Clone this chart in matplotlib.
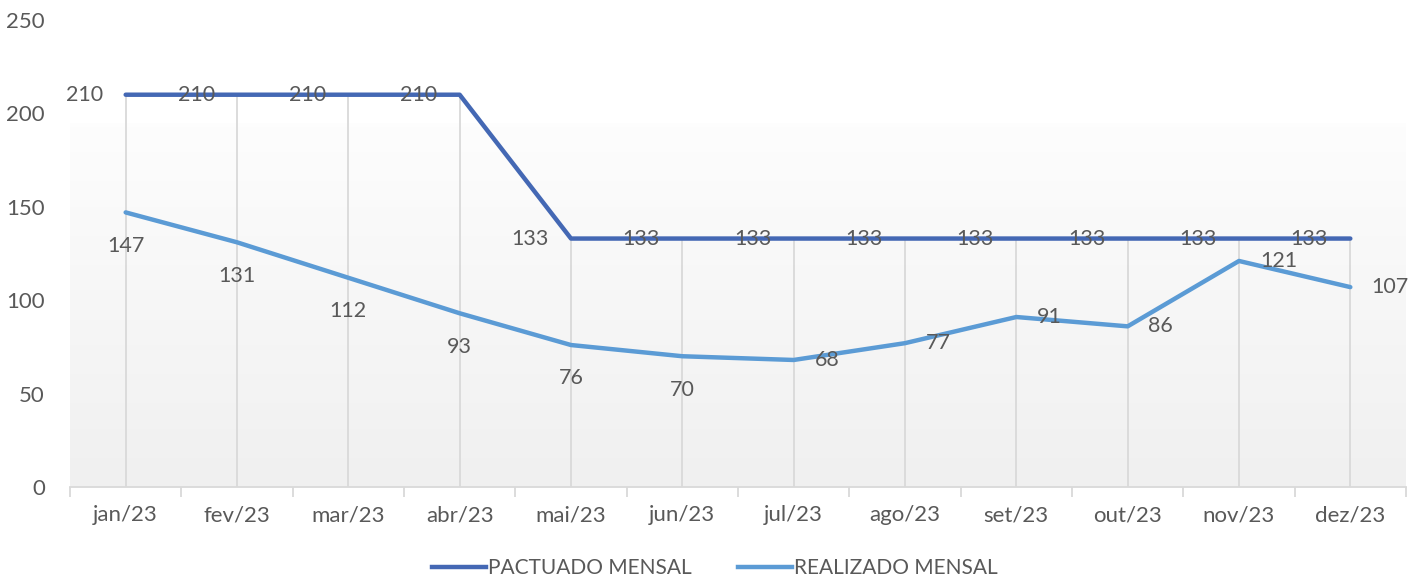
import numpy as np
import matplotlib
matplotlib.use("Agg")
import matplotlib.pyplot as plt
from matplotlib.lines import Line2D

meses = ["jan/23", "fev/23", "mar/23", "abr/23", "mai/23", "jun/23",
         "jul/23", "ago/23", "set/23", "out/23", "nov/23", "dez/23"]
pactuado = [210, 210, 210, 210, 133, 133, 133, 133, 133, 133, 133, 133]
realizado = [147, 131, 112, 93, 76, 70, 68, 77, 91, 86, 121, 107]
# where the REALIZADO labels sit: below or right of the point
pos_realizado = ["below"] * 6 + ["right"] * 6

cor_pact = "#4468b4"
cor_real = "#5b9bd5"
cinza = "#595959"

plt.rcParams["font.family"] = ["Lato", "DejaVu Sans"]

fig = plt.figure(figsize=(14.27, 5.81), dpi=100)
ax = fig.add_axes([70 / 1427, 1 - 487 / 581, (1406 - 70) / 1427, (487 - 20) / 581])

x = np.arange(len(meses))
ax.set_xlim(-0.5, len(meses) - 0.5)
ax.set_ylim(0, 250)

# plot area fill: light vertical gradient
grad = np.linspace(0, 1, 100).reshape(-1, 1)
top_frac = (487 - 123) / (487 - 20)
ax.imshow(grad, cmap=matplotlib.colors.LinearSegmentedColormap.from_list(
    "g", ["#f0f0f0", "#fdfdfd"]), aspect="auto", origin="lower",
    extent=(-0.5, len(meses) - 0.5, 0, 250 * top_frac), zorder=0)

# drop lines
tops = np.maximum(pactuado, realizado)
ax.vlines(x, 0, tops, color="#d9d9d9", lw=1.3, zorder=1)

ax.plot(x, pactuado, color=cor_pact, lw=3.2, solid_capstyle="round", zorder=3)
ax.plot(x, realizado, color=cor_real, lw=3.2, solid_capstyle="round", zorder=3)

for i, v in enumerate(pactuado):
    ax.annotate(str(v), (x[i], v), xytext=(-16, 0), textcoords="offset points",
                ha="right", va="center", fontsize=15.5, color=cinza, zorder=4)

for i, v in enumerate(realizado):
    if pos_realizado[i] == "below":
        ax.annotate(str(v), (x[i], v), xytext=(0, -24), textcoords="offset points",
                    ha="center", va="center", fontsize=15.5, color=cinza, zorder=4)
    else:
        ax.annotate(str(v), (x[i], v), xytext=(15, 0), textcoords="offset points",
                    ha="left", va="center", fontsize=15.5, color=cinza, zorder=4)

ax.set_yticks([0, 50, 100, 150, 200, 250])
ax.tick_params(axis="y", length=0, labelsize=16, labelcolor=cinza, pad=18)
ax.set_xticks(x)
ax.set_xticklabels(meses)
ax.tick_params(axis="x", length=0, labelsize=16, labelcolor=cinza, pad=13)
ax.set_xticks(np.arange(-0.5, len(meses)), minor=True)
ax.tick_params(axis="x", which="minor", length=7, color="#d9d9d9", width=1.3)

for s in ["top", "right", "left"]:
    ax.spines[s].set_visible(False)
ax.spines["bottom"].set_color("#d9d9d9")
ax.spines["bottom"].set_linewidth(1.3)

handles = [Line2D([], [], color=cor_pact, lw=3.2),
           Line2D([], [], color=cor_real, lw=3.2)]
fig.legend(handles, ["PACTUADO MENSAL", "REALIZADO MENSAL"], loc="center",
           bbox_to_anchor=(715 / 1427, 1 - 568 / 581), ncol=2, frameon=False,
           fontsize=15, labelcolor=cinza, handlelength=2.6, handletextpad=0.1,
           columnspacing=2.2)

fig.savefig("out.png", dpi=100)
